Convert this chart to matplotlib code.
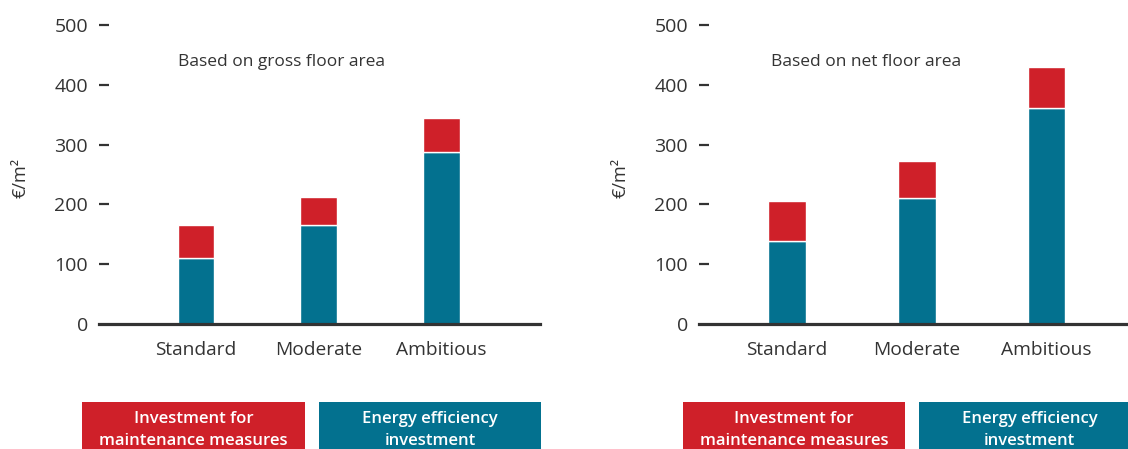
import matplotlib
matplotlib.use("Agg")
import matplotlib.pyplot as plt
from matplotlib.patches import Rectangle

plt.rcParams['font.family'] = ['Open Sans', 'DejaVu Sans']

categories = ['Standard', 'Moderate', 'Ambitious']
gross_energy = [110, 165, 288]
gross_total = [165, 213, 344]
net_energy = [138, 211, 362]
net_total = [206, 273, 430]
titles = ['Based on gross floor area', 'Based on net floor area']
legend_labels = ['Investment for\nmaintenance measures', 'Energy efficiency\ninvestment']

RED = '#CF2029'
TEAL = '#03718F'
TXT = '#333333'

W, H = 1128, 449
fig = plt.figure(figsize=(W / 100, H / 100), dpi=100)

def px(x0, y_top, x1, y_bot):
    return [x0 / W, (H - y_bot) / H, (x1 - x0) / W, (y_bot - y_top) / H]

panels = [
    (px(99, 25, 540, 324), (-0.79, 2.8), 0.30, gross_energy, gross_total, 281, 20),
    (px(699, 25, 1128, 324), (-0.68, 2.63), 0.29, net_energy, net_total, 866, 620),
]

for i, (rect, xl, bw, energy, total, tx, lx) in enumerate(panels):
    ax = fig.add_axes(rect)
    x = range(len(categories))
    maint = [t - e for t, e in zip(total, energy)]
    ax.bar(x, energy, width=bw, color=TEAL, edgecolor='white', linewidth=1.0, zorder=2)
    ax.bar(x, maint, bottom=energy, width=bw, color=RED, edgecolor='white', linewidth=1.0, zorder=2)
    ax.set_ylim(0, 500)
    ax.set_xlim(*xl)
    ax.set_yticks([0, 100, 200, 300, 400, 500])
    ax.set_xticks(list(x))
    ax.set_xticklabels(categories)
    for s in ['top', 'right', 'left']:
        ax.spines[s].set_visible(False)
    ax.spines['bottom'].set_linewidth(2.3)
    ax.spines['bottom'].set_color('#333333')
    ax.spines['bottom'].set_zorder(3)
    ax.tick_params(axis='y', direction='in', length=7, width=1.6, color='#333333',
                   pad=8, labelsize=14, labelcolor=TXT)
    ax.tick_params(axis='x', length=0, pad=12, labelsize=13.8, labelcolor=TXT)
    ax.yaxis.get_major_ticks()[0].tick1line.set_visible(False)
    ax.set_facecolor('none')
    fig.text(tx / W, (H - 62) / H, titles[i], ha='center', va='center', fontsize=12.5, color=TXT)
    fig.text(lx / W, (H - 178) / H, '€/m²', rotation=90, ha='center', va='center',
             fontsize=13, color=TXT)

# legend boxes at the bottom
boxes = [(82, 305, RED, 0), (319, 541, TEAL, 1), (683, 905, RED, 0), (919, 1140, TEAL, 1)]
for x0, x1, c, k in boxes:
    fig.patches.append(Rectangle((x0 / W, -0.05), (x1 - x0) / W, (H - 402) / H + 0.05,
                                 transform=fig.transFigure, facecolor=c, edgecolor='none'))
    fig.text((x0 + x1) / 2 / W, (H - 430) / H, legend_labels[k], ha='center', va='center',
             color='white', fontsize=12, fontweight='semibold', linespacing=1.45)

fig.savefig('out.png', dpi=100)
